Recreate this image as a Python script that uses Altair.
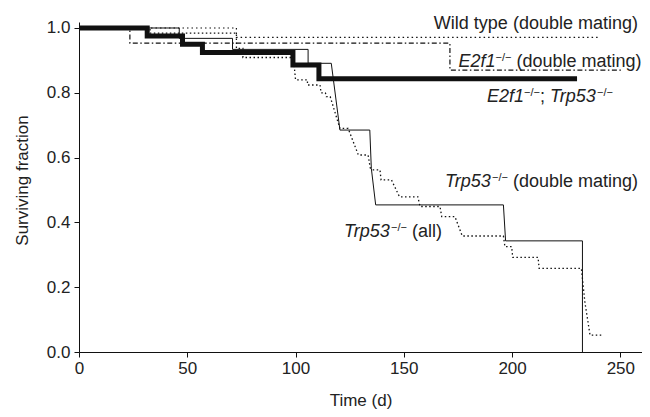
import altair as alt
import pandas as pd

# ---------------- data ----------------
# Wild type (double mating)
wt_t = [0, 72.7, 72.7, 239.6]
wt_v = [1.0, 1.0, 0.971, 0.971]

# E2f1-/- (double mating)
e2f1_t = [0, 23.5, 23.5, 171.3, 171.3, 250.7]
e2f1_v = [1.0, 1.0, 0.953, 0.953, 0.870, 0.870]

# E2f1-/-; Trp53-/-
dko_t = [0, 31.5, 31.5, 47.8, 47.8, 57.0, 57.0, 98.8, 98.8, 110.8, 110.8, 230.0]
dko_v = [1.0, 1.0, 0.975, 0.975, 0.950, 0.950, 0.924, 0.924, 0.886, 0.886, 0.843, 0.843]

# Trp53-/- (double mating)
p53dm_t = [0, 46.3, 46.3, 70.9, 70.9, 105.8, 105.8, 116.5, 120.5, 134.3, 135.0, 137.0,
           196.0, 197.0, 232.5, 232.5]
p53dm_v = [1.0, 1.0, 0.968, 0.968, 0.934, 0.934, 0.891, 0.891, 0.685, 0.685, 0.567, 0.454,
           0.454, 0.343, 0.343, 0.0]

# Trp53-/- (all)
p53all_t = [0, 32.8, 32.8, 72.7, 72.7, 75.7, 75.7, 99.0, 100.0, 105.5, 105.5, 111.3, 111.8,
            113.8, 114.2, 116.0, 120.5, 124.3, 129.0, 133.5, 134.5, 135.5, 139.0, 139.5,
            144.3, 148.0, 156.5, 157.5, 166.7, 167.5, 173.6, 177.0, 196.0, 196.7, 199.8,
            200.3, 212.0, 212.5, 232.0, 233.6, 236.0, 241.5]
p53all_v = [1.0, 1.0, 0.984, 0.984, 0.937, 0.937, 0.909, 0.909, 0.840, 0.840, 0.824, 0.824,
            0.800, 0.800, 0.788, 0.788, 0.690, 0.690, 0.608, 0.608, 0.568, 0.562, 0.562,
            0.531, 0.531, 0.479, 0.479, 0.449, 0.449, 0.418, 0.418, 0.358, 0.358, 0.325,
            0.325, 0.292, 0.292, 0.258, 0.258, 0.155, 0.052, 0.052]

x_ticks = [0, 50, 100, 150, 200, 250]
y_ticks = [0.0, 0.2, 0.4, 0.6, 0.8, 1.0]

# label texts: (centre day, baseline value, pieces)
labels = [
    (211.0, 0.996, [("Wild type (double mating)", "n")]),
    (217.5, 0.881, [("E2f1", "i"), ("\u2212/\u2212", "s"), (" (double mating)", "n")]),
    (217.5, 0.7725, [("E2f1", "i"), ("\u2212/\u2212", "s"), ("; ", "n"), ("Trp53", "i"),
                     ("\u2212/\u2212", "s")]),
    (213.6, 0.508, [("Trp53", "i"), ("\u2212/\u2212", "s"), (" (double mating)", "n")]),
    (145.0, 0.354, [("Trp53", "i"), ("\u2212/\u2212", "s"), (" (all)", "n")]),
]

# ---------------- layout ----------------
W, H = 563, 330
XMAX, YMAX = 260, 1.0185
PXD = W / XMAX
FONT = "Liberation Sans"
FS, SUP = 18, 11
INK = "#111111"
TXT = "#222222"

AW = {" ": 278, "(": 333, ")": 333, "/": 278, ";": 278, "1": 556, "2": 556, "3": 556,
      "5": 556, "E": 667, "T": 611, "W": 944, "a": 556, "b": 556, "d": 556, "e": 556,
      "f": 278, "g": 556, "i": 222, "l": 222, "m": 833, "n": 556, "o": 556, "p": 556,
      "r": 333, "t": 278, "u": 556, "y": 500, "\u2212": 584}


def tw(s, size):
    return sum(AW.get(c, 556) for c in s) * size / 1000.0


rows = []
for cx, by, pieces in labels:
    sizes = [SUP if k == "s" else FS for t, k in pieces]
    widths = [tw(t, s) for (t, k), s in zip(pieces, sizes)]
    total = sum(widths)
    cum = 0.0
    for (t, k), w, s in zip(pieces, widths, sizes):
        stripped = t.lstrip(" ")
        lead = tw(t[:len(t) - len(stripped)], s)
        rows.append({"x": cx + (cum + lead - total / 2) / PXD, "y": by,
                     "text": stripped.rstrip(" "), "kind": k})
        cum += w
lab = pd.DataFrame(rows)

xs = alt.Scale(domain=[0, XMAX], nice=False, zero=False)
ys = alt.Scale(domain=[0, YMAX], nice=False)

xax = alt.Axis(values=x_ticks, title="Time (d)", grid=False, tickSize=5,
               labelFontSize=17, titleFontSize=17, labelFont=FONT, titleFont=FONT,
               titleFontWeight="normal", domainColor=INK, tickColor=INK,
               labelColor=TXT, titleColor=TXT, labelPadding=3, titleY=48,
               titleBaseline="middle", labelFlush=False)
yax = alt.Axis(values=y_ticks, format=".1f", title="Surviving fraction", grid=False,
               tickSize=5, labelFontSize=17, titleFontSize=17, labelFont=FONT,
               titleFont=FONT, titleFontWeight="normal", domainColor=INK,
               tickColor=INK, labelColor=TXT, titleColor=TXT, labelPadding=4,
               titleAngle=270, titleX=-57, titleY=158, titleAlign="center",
               titleBaseline="middle", labelFlush=False)


def curve(ts, vs, **mk):
    df = pd.DataFrame({"t": ts, "v": vs, "i": list(range(len(ts)))})
    return alt.Chart(df).mark_line(color=INK, strokeCap="butt", strokeJoin="miter",
                                   **mk).encode(
        x=alt.X("t:Q", scale=xs, axis=xax),
        y=alt.Y("v:Q", scale=ys, axis=yax),
        order=alt.Order("i:Q"),
    )


l_wt = curve(wt_t, wt_v, strokeWidth=1.2, strokeDash=[1.5, 3])
l_e2 = curve(e2f1_t, e2f1_v, strokeWidth=1.2, strokeDash=[5, 2.5, 1.5, 2.5])
l_all = curve(p53all_t, p53all_v, strokeWidth=1.3, strokeDash=[1.5, 2.5])
l_dm = curve(p53dm_t, p53dm_v, strokeWidth=1.0)
l_dko = curve(dko_t, dko_v, strokeWidth=5)


def text_layer(kind, size, style, dy):
    return alt.Chart(lab).transform_filter(alt.datum.kind == kind).mark_text(
        align="left", baseline="alphabetic", font=FONT, fontSize=size,
        fontStyle=style, color=TXT, dy=dy).encode(
        x=alt.X("x:Q", scale=xs), y=alt.Y("y:Q", scale=ys), text="text:N")


t_n = text_layer("n", FS, "normal", 0)
t_i = text_layer("i", FS, "italic", 0)
t_s = text_layer("s", SUP, "normal", -6)

chart = alt.layer(l_wt, l_e2, l_all, l_dm, l_dko, t_n, t_i, t_s).properties(
    width=W, height=H,
    autosize=alt.AutoSizeParams(type="none"),
    padding={"left": 71, "top": 14, "right": 0, "bottom": 57},
).configure_view(strokeWidth=0)

chart.save("out.html", embed_options={"renderer": "svg", "actions": False})
